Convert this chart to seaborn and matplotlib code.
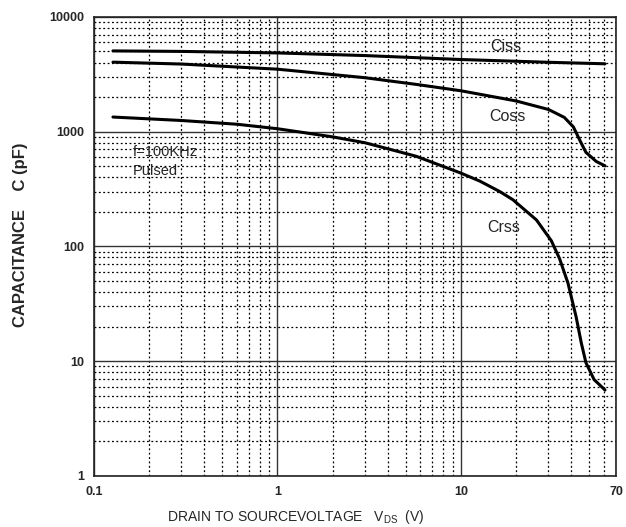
import numpy as np
import pandas as pd
import matplotlib
matplotlib.use("Agg")
import matplotlib.pyplot as plt
import seaborn as sns

# values (V_DS in volts, capacitance in pF)
ciss_v = [0.127, 0.3, 1.0, 3.0, 10.0, 30.0, 61.0]
ciss_c = [5050, 5000, 4850, 4600, 4250, 4020, 3900]

coss_v = [0.127, 0.3, 1.0, 3.0, 5.7, 10.0, 20.0, 30.0, 36.6, 41.0, 44.8, 48.0, 54.6, 61.0]
coss_c = [4030, 3880, 3500, 2950, 2580, 2270, 1850, 1560, 1330, 1100, 820, 660, 550, 503]

crss_v = [0.127, 0.3, 0.6, 1.0, 2.0, 3.0, 5.7, 10.0, 12.7, 16.3, 19.2, 25.8, 31.1, 34.5,
          38.3, 42.4, 45.3, 48.0, 53.2, 61.0]
crss_c = [1340, 1250, 1160, 1060, 900, 800, 610, 435, 370, 300, 255, 170, 112, 78,
          48, 24.5, 14.4, 9.7, 6.9, 5.6]

x_ticks = [0.1, 1, 10, 70]
x_tick_labels = ["0.1", "1", "10", "70"]
y_ticks = [1, 10, 100, 1000, 10000]
y_tick_labels = ["1", "10", "100", "1000", "10000"]

df = pd.concat([
    pd.DataFrame({"V": ciss_v, "C": ciss_c, "curve": "Ciss"}),
    pd.DataFrame({"V": coss_v, "C": coss_c, "curve": "Coss"}),
    pd.DataFrame({"V": crss_v, "C": crss_c, "curve": "Crss"}),
])

sns.set_style("white")
plt.rcParams["font.family"] = ["Liberation Sans", "DejaVu Sans"]
plt.rcParams["mathtext.fontset"] = "custom"
plt.rcParams["mathtext.rm"] = "Liberation Sans"

fig = plt.figure(figsize=(6.26, 5.27), dpi=100)
ax = fig.add_axes([0.150, 0.097, 0.834, 0.871])

sns.lineplot(data=df, x="V", y="C", hue="curve", units="curve", estimator=None,
             palette=["black"] * 3, linewidth=2.2, legend=False, sort=False, ax=ax)

ax.set_xscale("log")
ax.set_yscale("log")
ax.set_xlim(0.1, 70)
ax.set_ylim(1, 10000)

ax.grid(True, which="major", color="#333333", linestyle="-", linewidth=1.0)
ax.grid(True, which="minor", color="black", linestyle=(0, (1.5, 2.0)), linewidth=0.9)

ax.set_xticks(x_ticks)
ax.set_xticklabels(x_tick_labels)
ax.set_yticks(y_ticks)
ax.set_yticklabels(y_tick_labels)
ax.tick_params(which="major", length=3, width=1, direction="out", labelsize=9, pad=4)
ax.tick_params(which="minor", length=0)
for lbl in ax.get_xticklabels() + ax.get_yticklabels():
    lbl.set_fontweight("bold")

for s in ax.spines.values():
    s.set_color("#222222")
    s.set_linewidth(1.2)

ax.set_xlabel("")
ax.set_ylabel("")

ax.text(14.4, 5480, "Ciss", fontsize=11.5, va="center", ha="left")
ax.text(14.2, 1345, "Coss", fontsize=11.5, va="center", ha="left")
ax.text(13.9, 145, "Crss", fontsize=11.5, va="center", ha="left")
ax.text(0.163, 667, "f=100KHz", fontsize=10.5, va="center", ha="left")
ax.text(0.163, 455, "Pulsed", fontsize=10.5, va="center", ha="left")

fig.text(0.473, 0.019, r"DRAIN TO SOURCEVOLTAGE   V$_{\mathrm{DS}}$  (V)",
         fontsize=10, ha="center", va="center")
fig.text(0.032, 0.554, "CAPACITANCE    C (pF)", fontsize=12, fontweight="bold",
         rotation=90, ha="center", va="center")

fig.savefig("out.png", dpi=100)
